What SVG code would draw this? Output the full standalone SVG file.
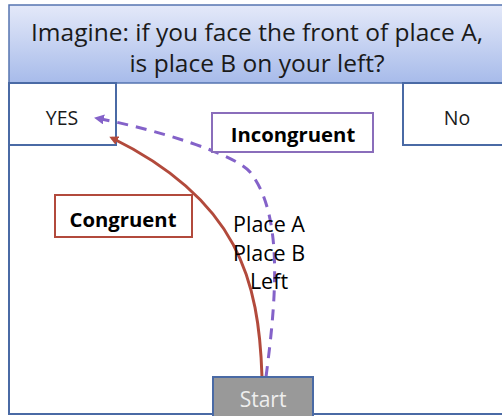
<svg xmlns="http://www.w3.org/2000/svg" width="502" height="416" viewBox="0 0 502 416">
<style>
text{font-family:"Open Sans","Liberation Sans",sans-serif;fill:#1a1a1a}
.frame{fill:#fff;stroke:#4a6aa5;stroke-width:2}
.title{font-size:24.5px}
.ans{font-size:19.5px}
.lbl{font-size:20.3px;font-weight:bold;fill:#000}
.mid{font-size:21.5px;fill:#000}
</style>
<defs>
<linearGradient id="tg" x1="0" y1="0" x2="0" y2="1">
<stop offset="0" stop-color="#e4e9f9"/>
<stop offset="1" stop-color="#a7bbea"/>
</linearGradient>
<marker id="ar" markerWidth="9" markerHeight="9" refX="6" refY="4.5" orient="auto" markerUnits="userSpaceOnUse" viewBox="0 0 9 9">
<path d="M0,0 L9,4.5 L0,9 Z" fill="#b24a3c"/>
</marker>
<marker id="ap" markerWidth="10" markerHeight="10" refX="8" refY="5" orient="auto" markerUnits="userSpaceOnUse" viewBox="0 0 10 10">
<path d="M0,0 L10,5 L0,10 Z" fill="#8462c9"/>
</marker>
</defs>
<rect width="502" height="416" fill="#fff"/>
<g id="frame">
<path d="M9,83 V414 H510" fill="none" stroke="#4a6aa5" stroke-width="2"/>
</g>
<g id="title">
<rect x="9" y="5" width="500" height="78" fill="url(#tg)" stroke="#5574b0" stroke-width="1.5"/>
<text class="title" x="257" y="41" text-anchor="middle">Imagine: if you face the front of place A,</text>
<text class="title" x="257" y="72" text-anchor="middle">is place B on your left?</text>
</g>
<g id="yes">
<rect class="frame" x="9" y="83" width="107" height="62"/>
<text class="ans" x="62" y="125" text-anchor="middle">YES</text>
</g>
<g id="no">
<rect class="frame" x="403" y="83" width="110" height="62"/>
<text class="ans" x="457" y="125" text-anchor="middle">No</text>
</g>
<g id="connectors" fill="none">
<path d="M262,377 C259,280 238,200 112,138" stroke="#b24a3c" stroke-width="3" marker-end="url(#ar)"/>
<path d="M266,377 C276,300 284,215 250,172 C236,155 160,130 96,118" stroke="#8462c9" stroke-width="3" stroke-dasharray="11,8" marker-end="url(#ap)"/>
</g>
<g id="incongruent">
<rect x="212" y="113" width="161" height="39" fill="#fff" stroke="#8a6dbb" stroke-width="2"/>
<text class="lbl" x="293" y="142" text-anchor="middle">Incongruent</text>
</g>
<g id="congruent">
<rect x="55" y="195" width="137" height="42" fill="#fff" stroke="#b24a3c" stroke-width="2"/>
<text class="lbl" x="123" y="227" text-anchor="middle">Congruent</text>
</g>
<g id="stimulus">
<text class="mid" x="269" y="232" text-anchor="middle">Place A</text>
<text class="mid" x="269" y="261" text-anchor="middle">Place B</text>
<text class="mid" x="269" y="289" text-anchor="middle">Left</text>
</g>
<g id="start">
<rect x="213" y="377" width="100" height="40" fill="#999" stroke="#4a6aa5" stroke-width="2"/>
<text x="263" y="407" text-anchor="middle" font-size="21" style="fill:#eee">Start</text>
</g>
</svg>
